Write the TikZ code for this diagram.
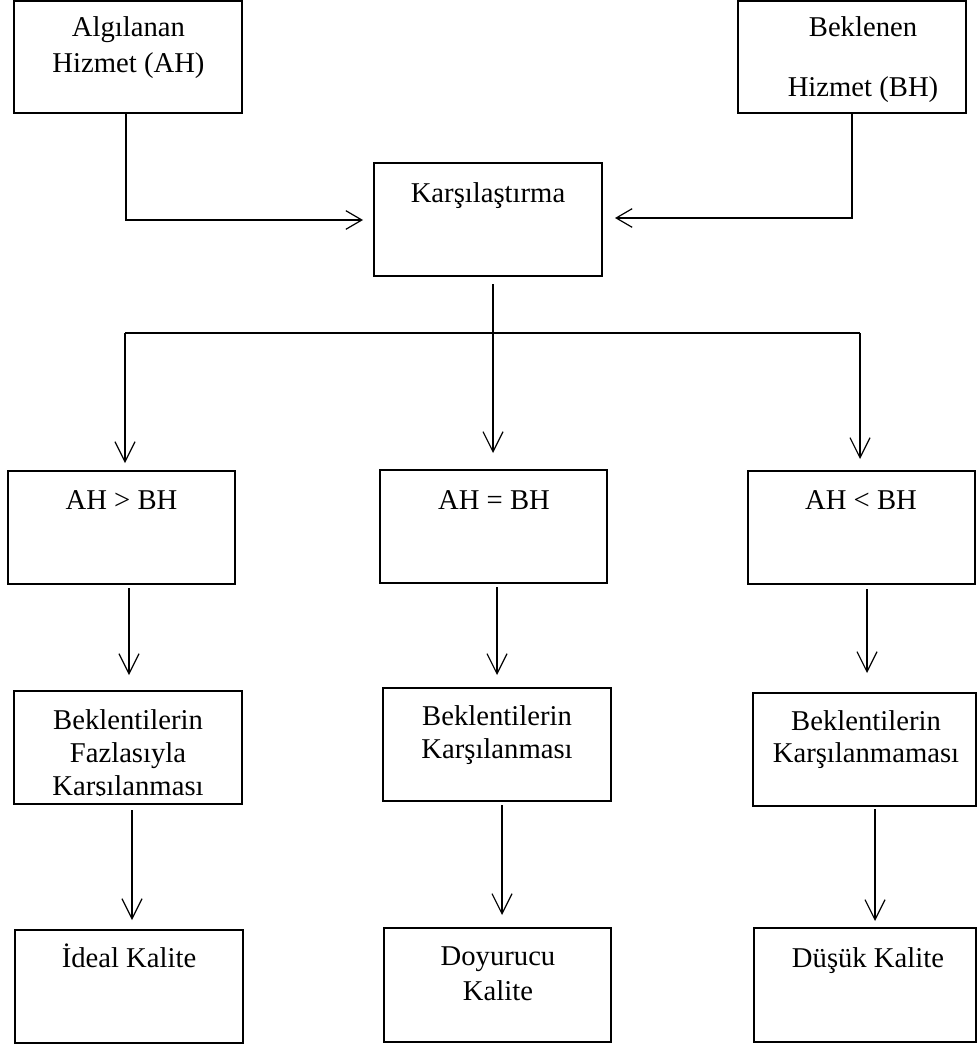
\documentclass[tikz,border=0pt]{standalone}
\usepackage{fontspec}
\setmainfont{Liberation Serif}
\usetikzlibrary{arrows.meta}
\begin{document}
\begin{tikzpicture}[x=0.75pt,y=-0.75pt,
  box/.style={draw, line width=1pt, inner sep=0pt, outer sep=0pt},
  txt/.style={anchor=base, inner sep=0pt, font=\fontsize{21.5}{26}\selectfont},
  line/.style={line width=0.9pt},
  arrv/.style={line width=0.9pt, -{Straight Barb[length=15pt,width=15pt,line width=0.9pt]}},
  arrh/.style={line width=0.9pt, -{Straight Barb[length=12pt,width=14pt,line width=0.9pt]}}]
\useasboundingbox (0,0) rectangle (977,1045);
% boxes
\node[box, minimum width=171pt, minimum height=84pt] (ah) at (128,57) {};
\node[box, minimum width=171pt, minimum height=84pt] (bh) at (852,57) {};
\node[box, minimum width=171pt, minimum height=84.75pt] (k) at (488,219.5) {};
\node[box, minimum width=170.25pt, minimum height=84.75pt] (r2a) at (121.5,527.5) {};
\node[box, minimum width=170.25pt, minimum height=84.75pt] (r2b) at (493.5,526.5) {};
\node[box, minimum width=170.25pt, minimum height=84.75pt] (r2c) at (861.5,527.5) {};
\node[box, minimum width=171pt, minimum height=84.75pt] (r3a) at (128,747.5) {};
\node[box, minimum width=171pt, minimum height=84.75pt] (r3b) at (497,744.5) {};
\node[box, minimum width=167.25pt, minimum height=84.75pt] (r3c) at (864.5,749.5) {};
\node[box, minimum width=171pt, minimum height=84.75pt] (r4a) at (129,986.5) {};
\node[box, minimum width=170.25pt, minimum height=85.5pt] (r4b) at (497.5,985) {};
\node[box, minimum width=166.5pt, minimum height=85.5pt] (r4c) at (865,985) {};
% texts
\node[txt] (t1) at (128.5,37) {Algılanan};
\node[txt] (t2) at (128.5,73) {Hizmet (AH)};
\node[txt] (t3) at (863,37) {Beklenen};
\node[txt] (t4) at (863,97) {Hizmet (BH)};
\node[txt] (t5) at (488,202) {Karşılaştırma};
\node[txt] (t6) at (121.5,509) {AH > BH};
\node[txt] (t7) at (494,509) {AH = BH};
\node[txt] (t8) at (861,509) {AH < BH};
\node[txt] (t9) at (128,729) {Beklentilerin};
\node[txt] (t10) at (128,762) {Fazlasıyla};
\begin{scope}
\clip (14,691) rectangle (242,795.5);
\node[txt] (t11) at (128,795) {Karşılanması};
\end{scope}
\node[txt] (t12) at (497,725) {Beklentilerin};
\node[txt] (t13) at (497,758) {Karşılanması};
\node[txt] (t14) at (866,730) {Beklentilerin};
\node[txt] (t15) at (866,762) {Karşılanmaması};
\node[txt] (t16) at (129,967) {İdeal Kalite};
\node[txt] (t17) at (498,965) {Doyurucu};
\node[txt] (t18) at (498,1000) {Kalite};
\node[txt] (t19) at (868,967) {Düşük Kalite};
% coordinates
\coordinate (kin1) at (363,220);
\coordinate (kin2) at (615,218);
\coordinate (kout) at (493,284);
\coordinate (tipb) at (493,453);
\coordinate (jl) at (125,333);
\coordinate (jr) at (860,333);
\coordinate (tipa) at (125,463);
\coordinate (tipc) at (860,459);
\coordinate (s2a) at (129,588); \coordinate (e2a) at (129,675);
\coordinate (s2b) at (497,587); \coordinate (e2b) at (497,675);
\coordinate (s2c) at (867,589); \coordinate (e2c) at (867,673);
\coordinate (s3a) at (132,810); \coordinate (e3a) at (132,920);
\coordinate (s3b) at (502,805); \coordinate (e3b) at (502,915);
\coordinate (s3c) at (875,809); \coordinate (e3c) at (875,921);
% connectors
\draw[arrh] ([xshift=-1.5pt]ah.south) |- (kin1);
\draw[arrh] (bh.south) |- (kin2);
\draw[arrv] (kout) -- (tipb);
\draw[line] (jl) -- (jr);
\draw[arrv] (jl) -- (tipa);
\draw[arrv] (jr) -- (tipc);
\draw[arrv] (s2a) -- (e2a);
\draw[arrv] (s2b) -- (e2b);
\draw[arrv] (s2c) -- (e2c);
\draw[arrv] (s3a) -- (e3a);
\draw[arrv] (s3b) -- (e3b);
\draw[arrv] (s3c) -- (e3c);
\end{tikzpicture}
\end{document}
